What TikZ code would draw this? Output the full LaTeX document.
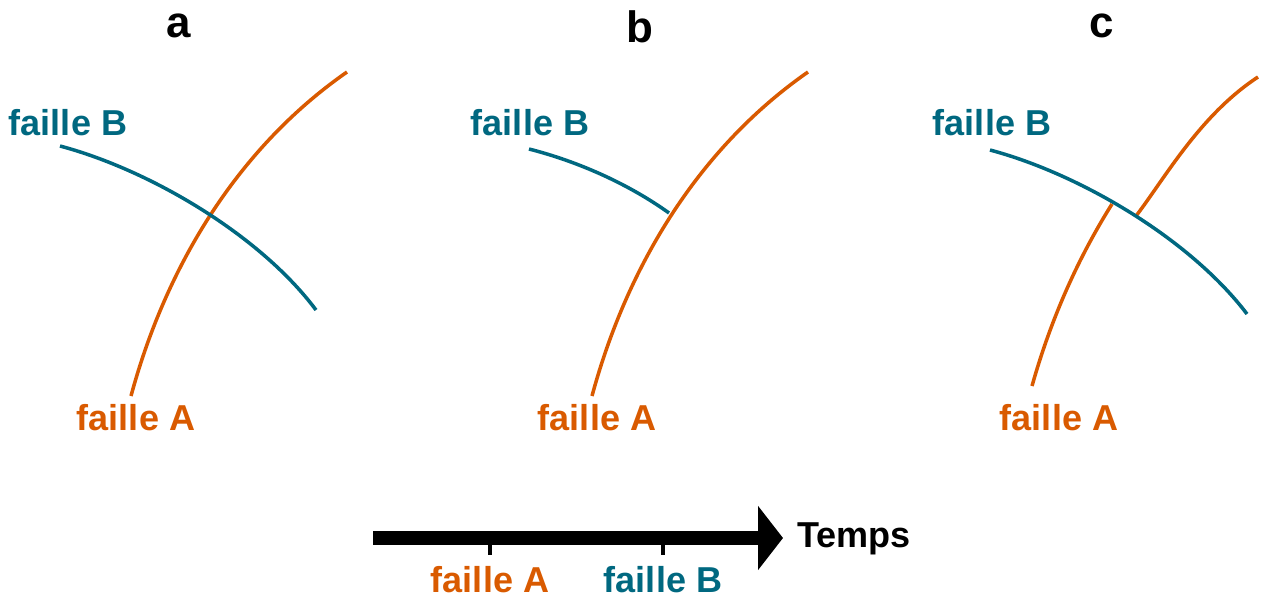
\documentclass[tikz,border=0pt]{standalone}
\usepackage{fontspec}
\setmainfont{Liberation Sans}
\usetikzlibrary{arrows.meta}
\definecolor{faultA}{RGB}{217,90,0}
\definecolor{faultB}{RGB}{0,104,128}
\tikzset{
  lblA/.style={text=faultA, font=\fontsize{20.5}{24}\selectfont\bfseries, anchor=base, inner sep=0pt},
  lblB/.style={text=faultB, font=\fontsize{20.5}{24}\selectfont\bfseries, anchor=base, inner sep=0pt},
  panel/.style={text=black, font=\fontsize{25}{30}\selectfont\bfseries, anchor=base, inner sep=0pt},
  lineA/.style={draw=faultA, line width=2pt},
  lineB/.style={draw=faultB, line width=2pt},
  timeline/.style={draw=black, line width=0.28cm, -{Triangle[length=0.5cm,width=1.26cm]}},
  tick/.style={draw=black, line width=2pt},
}
\begin{document}
\begin{tikzpicture}[x=0.02cm,y=-0.02cm]
\useasboundingbox (0,0) rectangle (1274,599);
% panel letters
\node[panel] (pa) at (179,37) {a};
\node[panel] (pb) at (640,42) {b};
\node[panel] (pc) at (1102,37) {c};
% panel a
\coordinate (aA0) at (131,396);
\coordinate (aA1) at (347,72);
\coordinate (aB0) at (60,146);
\coordinate (aB1) at (316,310);
\draw[lineA] (aA0) .. controls (165,270) and (235,150) .. (aA1);
\draw[lineB] (aB0) .. controls (150,170) and (260,235) .. (aB1);
\node[lblB] (laB) at (68,135) {faille B};
\node[lblA] (laA) at (136,430) {faille A};
% panel b
\coordinate (bA0) at (592,396);
\coordinate (bA1) at (808,72);
\coordinate (bB0) at (529,149);
\coordinate (bB1) at (669,213);
\draw[lineA] (bA0) .. controls (626,270) and (696,150) .. (bA1);
\draw[lineB] (bB0) .. controls (580,162) and (630,185) .. (bB1);
\node[lblB] (lbB) at (530,135) {faille B};
\node[lblA] (lbA) at (597,430) {faille A};
% panel c
\coordinate (cA0) at (1032,386);
\coordinate (cA1) at (1112,204);
\coordinate (cA2) at (1136,216);
\coordinate (cA3) at (1258,77);
\coordinate (cB0) at (990,150);
\coordinate (cB1) at (1247,314);
\draw[lineA] (cA0) .. controls (1052,315) and (1080,255) .. (cA1);
\draw[lineA] (cA2) .. controls (1165,178) and (1200,115) .. (cA3);
\draw[lineB] (cB0) .. controls (1080,174) and (1190,239) .. (cB1);
\node[lblB] (lcB) at (992,135) {faille B};
\node[lblA] (lcA) at (1059,430) {faille A};
% timeline
\coordinate (t0) at (373,538);
\coordinate (t1) at (783,538);
\draw[timeline] (t0) -- (t1);
\coordinate (tkA) at (490,538);
\coordinate (tkB) at (663,538);
\coordinate (tkAe) at (490,555);
\coordinate (tkBe) at (663,555);
\draw[tick] (tkA) -- (tkAe);
\draw[tick] (tkB) -- (tkBe);
\node[font=\fontsize{20.5}{24}\selectfont\bfseries, anchor=base west, inner sep=0pt] (temps) at (797,547) {Temps};
\node[lblA] (ltA) at (490,592) {faille A};
\node[lblB] (ltB) at (663,592) {faille B};
\end{tikzpicture}
\end{document}
